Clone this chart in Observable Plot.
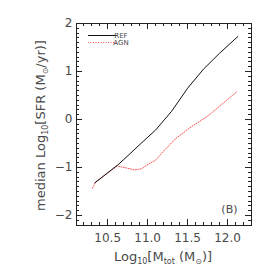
<!DOCTYPE html>
<html><head><meta charset="utf-8">
<script src="https://cdn.jsdelivr.net/npm/d3@7"></script>
<script src="https://cdn.jsdelivr.net/npm/@observablehq/plot@0.6"></script>
<style>html,body{margin:0;padding:0;background:#fff} svg{display:block}</style>
</head><body><div id="chart"></div>
<script>
// REF run (black solid)
const refMass = [10.34, 10.64, 10.93, 11.10, 11.30, 11.50, 11.70, 11.90, 12.13];
const refSFR  = [-1.32, -0.93, -0.48, -0.22, 0.17, 0.65, 1.05, 1.38, 1.73];
// AGN run (red dotted)
const agnMass = [10.31, 10.35, 10.62, 10.73, 10.83, 10.92, 11.02, 11.10, 11.20, 11.35, 11.54, 11.76, 12.11];
const agnSFR  = [-1.43, -1.30, -0.97, -1.01, -1.05, -1.03, -0.92, -0.85, -0.66, -0.40, -0.16, 0.08, 0.57];
// ticks
const xMajor = [10.5, 11.0, 11.5, 12.0];
const yMajor = [-2, -1, 0, 1, 2];
const xMinor = d3.range(102, 123).map(d => d / 10);
const yMinor = d3.range(-21, 20).map(d => d / 10);
const seriesNames = ["REF", "AGN"];

(function () {
const W = 274, H = 274, mL = 76, mR = 23, mT = 23, mB = 49;
const tickCol = "#222";
const redCol = "#ff5050";

const ref = refMass.map((m, i) => ({m, s: refSFR[i]}));
const agn = agnMass.map((m, i) => ({m, s: agnSFR[i]}));

const svg = Plot.plot({
  width: W, height: H,
  marginLeft: mL, marginRight: mR, marginTop: mT, marginBottom: mB,
  style: {fontFamily: "DejaVu Sans", fontSize: "12px", color: "#4a4a4a", background: "#fff"},
  x: {domain: [10.11, 12.3]},
  y: {domain: [-2.21, 2.0]},
  marks: [
    Plot.frame({stroke: "#222"}),
    Plot.axisX(xMajor, {tickSize: 0, tickPadding: 8, tickFormat: d => d.toFixed(1), label: null, fontSize: 12}),
    Plot.axisY(yMajor, {tickSize: 0, tickPadding: 4, label: null, fontSize: 12}),
    Plot.line(agn, {x: "m", y: "s", stroke: redCol, strokeWidth: 1, strokeDasharray: "1,1.5"}),
    Plot.line(ref, {x: "m", y: "s", stroke: "#111", strokeWidth: 1}),
    Plot.text(["(B)"], {frameAnchor: "bottom-right", dx: -14, dy: -16, lineAnchor: "middle", textAnchor: "end", fontSize: 11, fill: "#4a4a4a"})
  ]
});
document.getElementById("chart").appendChild(svg);

const sx = svg.scale("x"), sy = svg.scale("y");
const fL = mL, fR = W - mR, fT = mT, fB = H - mB;
const s = d3.select(svg);
const tg = s.append("g").attr("stroke", tickCol).attr("stroke-width", 1).attr("fill", "none");
function xt(vals, len) {
  for (const v of vals) {
    const px = Math.round(sx.apply(v)) + 0.5;
    tg.append("line").attr("x1", px).attr("x2", px).attr("y1", fB).attr("y2", fB - len);
    tg.append("line").attr("x1", px).attr("x2", px).attr("y1", fT).attr("y2", fT + len);
  }
}
function yt(vals, len) {
  for (const v of vals) {
    const py = Math.round(sy.apply(v)) + 0.5;
    tg.append("line").attr("y1", py).attr("y2", py).attr("x1", fL).attr("x2", fL + len);
    tg.append("line").attr("y1", py).attr("y2", py).attr("x1", fR).attr("x2", fR - len);
  }
}
xt(xMinor, 3); xt(xMajor, 6);
yt(yMinor, 3); yt(yMajor, 6);

// y label
const yl = s.append("text")
  .attr("transform", "translate(45,125.5) rotate(-90)")
  .attr("text-anchor", "middle")
  .attr("font-family", "DejaVu Sans").attr("font-size", 13).attr("fill", "#4a4a4a");
yl.append("tspan").text("median Log");
yl.append("tspan").attr("font-size", 8).attr("dy", 3).text("10");
yl.append("tspan").attr("dy", -3).text("[SFR (M");
yl.append("tspan").attr("font-size", 8).attr("dy", 3).text("⊙");
yl.append("tspan").attr("dy", -3).text("/yr)]");
// x label
const xl = s.append("text")
  .attr("transform", "translate(163,261)")
  .attr("text-anchor", "middle")
  .attr("font-family", "DejaVu Sans").attr("font-size", 13).attr("fill", "#4a4a4a");
xl.append("tspan").text("Log");
xl.append("tspan").attr("font-size", 8).attr("dy", 3).text("10");
xl.append("tspan").attr("dy", -3).text("[M");
xl.append("tspan").attr("font-size", 8).attr("dy", 3).text("tot");
xl.append("tspan").attr("dy", -3).text(" (M");
xl.append("tspan").attr("font-size", 8).attr("dy", 3).text("⊙");
xl.append("tspan").attr("dy", -3).text(")]");
// legend
const leg = s.append("g").attr("font-family", "DejaVu Sans").attr("font-size", 7).attr("fill", "#4a4a4a");
leg.append("line").attr("x1", 88).attr("x2", 117).attr("y1", 35.5).attr("y2", 35.5).attr("stroke", "#111");
leg.append("line").attr("x1", 88).attr("x2", 117).attr("y1", 42.5).attr("y2", 42.5).attr("stroke", redCol).attr("stroke-dasharray", "1,1.5");
leg.append("text").attr("x", 121).attr("y", 35.5).attr("dy", "0.35em").text(seriesNames[0]);
leg.append("text").attr("x", 121).attr("y", 43).attr("dy", "0.35em").text(seriesNames[1]);
})();
</script>
</body></html>
